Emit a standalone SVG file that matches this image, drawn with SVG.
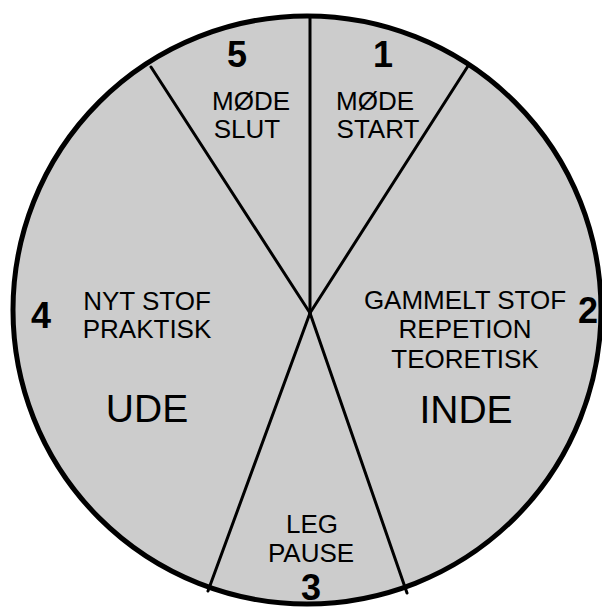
<svg xmlns="http://www.w3.org/2000/svg" width="602" height="608" viewBox="0 0 602 608">
<style>
.t{font-family:"Liberation Sans",Arial,sans-serif;font-size:26px;fill:#000;text-anchor:middle}
.n{font-family:"Liberation Sans",Arial,sans-serif;font-size:36px;font-weight:bold;fill:#000;text-anchor:middle}
.b{font-family:"Liberation Sans",Arial,sans-serif;font-size:39px;fill:#000;text-anchor:middle}
.sp{stroke:#000;stroke-width:3;stroke-linecap:round;fill:none}
</style>
<rect width="602" height="608" fill="#fff"/>
<g id="wheel">
<circle cx="307" cy="310" r="294" fill="#cccccc"/>
</g>
<g id="connectors">
<line class="sp" x1="310" y1="16" x2="310" y2="313"/>
<line class="sp" x1="151" y1="67" x2="310" y2="313"/>
<line class="sp" x1="468" y1="66" x2="310" y2="313"/>
<line class="sp" x1="208" y1="591" x2="310" y2="313"/>
<line class="sp" x1="407" y1="593" x2="310" y2="313"/>
</g>
<g id="rim">
<circle cx="307" cy="310" r="294" fill="none" stroke="#000" stroke-width="5"/>
</g>
<g id="sector1">
<text class="n" x="383" y="67">1</text>
<text class="t" x="375" y="110">MØDE</text>
<text class="t" x="378" y="138">START</text>
</g>
<g id="sector2">
<text class="n" x="588" y="323">2</text>
<text class="t" x="465" y="309">GAMMELT STOF</text>
<text class="t" x="465" y="338">REPETION</text>
<text class="t" x="465" y="368">TEORETISK</text>
<text class="b" x="466" y="423">INDE</text>
</g>
<g id="sector3">
<text class="t" x="312" y="533">LEG</text>
<text class="t" x="311" y="562">PAUSE</text>
<text class="n" x="311" y="600">3</text>
</g>
<g id="sector4">
<text class="n" x="41" y="328">4</text>
<text class="t" x="147" y="310">NYT STOF</text>
<text class="t" x="147" y="338">PRAKTISK</text>
<text class="b" x="147" y="422">UDE</text>
</g>
<g id="sector5">
<text class="n" x="237" y="67">5</text>
<text class="t" x="251" y="110">MØDE</text>
<text class="t" x="247" y="138">SLUT</text>
</g>
</svg>
